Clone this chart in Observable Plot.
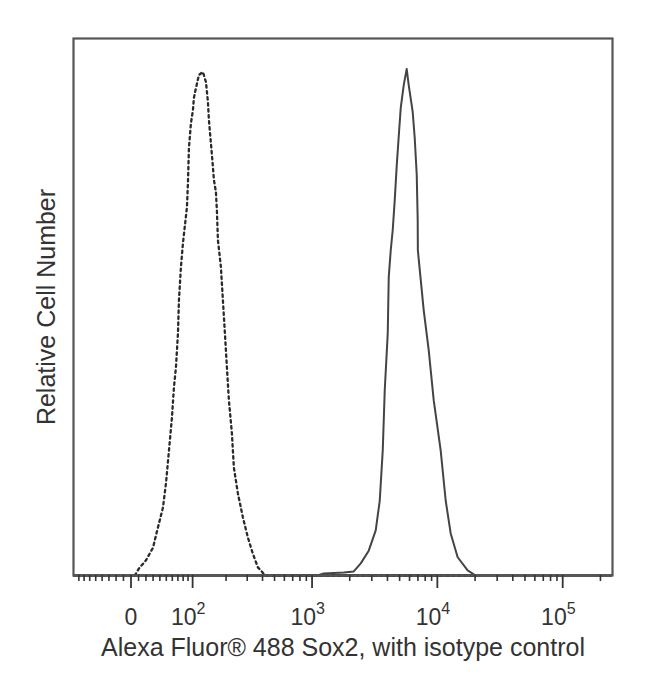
<!DOCTYPE html>
<html>
<head>
<meta charset="utf-8">
<script src="https://cdn.jsdelivr.net/npm/d3@7"></script>
<script src="https://cdn.jsdelivr.net/npm/@observablehq/plot@0.6"></script>
<style>
  html, body { margin: 0; padding: 0; background: #fff; }
</style>
</head>
<body>
<div id="chart"></div>
<script>
// Isotype control histogram (dashed): [fluorescence, relative count]
const isotypeValues = [5, 10.6, 20.1, 29.9, 37.1, 44.7, 49.5, 54.4, 59.4, 62.9, 66.4, 70.1, 71.9, 75.7, 79.6, 87.7, 89.8, 91.9, 96.3, 100.8, 103.0, 107.7, 115.0, 125.3, 133.5, 139.1, 142.0, 145.0, 147.9, 151.0, 154.1, 157.2, 163.7, 167.0, 170.4, 180.8, 188.1, 195.6, 203.4, 211.4, 224.0, 232.8, 251.4, 276.4, 303.9, 333.8, 366.6, 387.7, 420, 20000];
const isotypeCounts = [0, 1.4, 3.0, 5.5, 9.5, 13.4, 18.2, 24.7, 31.2, 37.2, 41.1, 47.8, 54.3, 60.9, 65.6, 72.7, 77.5, 84.4, 89.3, 91.9, 94.3, 96.2, 98.8, 99.4, 97.4, 93.5, 89.9, 87.5, 85.4, 83.0, 80.6, 78.1, 75.7, 72.0, 66.2, 60.9, 54.3, 47.8, 41.1, 34.6, 28.1, 21.3, 16.2, 11.5, 7.5, 4.3, 1.6, 1.0, 0, 0];

// Sox2 histogram (solid)
const sox2Values = [1100, 1241, 1800, 2154, 2449, 2836, 3224, 3472, 3668, 3806, 4021, 4095, 4249, 4406, 4572, 4745, 4918, 5105, 5393, 5695, 5911, 6358, 6598, 6847, 6970, 6990, 7783, 8532, 9353, 10630, 11654, 12780, 14524, 17448, 20203];
const sox2Counts = [0, 0.4, 0.6, 0.8, 2.4, 4.9, 8.9, 14.8, 24.7, 36.6, 47.8, 58.9, 64.2, 68.2, 74.1, 81.0, 86.6, 92.3, 96.8, 100, 96.8, 91.5, 86.4, 79.1, 70.2, 64.2, 52.4, 44.5, 34.6, 24.7, 14.8, 8.3, 3.6, 1.0, 0];

// Axis ticks
const majorTicks = [0, 100, 1000, 10000, 100000];
const labelBase = ["0", "10", "10", "10", "10"];
const labelExp = ["", "2", "3", "4", "5"];
const minorTicks = [-80, -70, -60, -50, -40, -30, -20, -10, 10, 20, 30, 40, 50, 60, 70, 80, 90,
  200, 300, 400, 500, 600, 700, 800, 900,
  2000, 3000, 4000, 5000, 6000, 7000, 8000, 9000,
  20000, 30000, 40000, 50000, 60000, 70000, 80000, 90000, 200000];
const xDomainRaw = [-91, 249600];
const yDomain = [0, 106];

const xTitle = "Alexa Fluor® 488 Sox2, with isotype control";
const yTitle = "Relative Cell Number";

// biexponential-like (arcsinh) display transform
const W = 72;
const T = v => Math.asinh(v / W);

const isotype = isotypeValues.map((v, i) => ({v, c: isotypeCounts[i]}));
const sox2 = sox2Values.map((v, i) => ({v, c: sox2Counts[i]}));
const powLabels = majorTicks.map((v, i) => ({v, base: labelBase[i], exp: labelExp[i]})).filter(d => d.exp !== "");
const zeroLabel = majorTicks.map((v, i) => ({v, base: labelBase[i], exp: labelExp[i]})).filter(d => d.exp === "");

const font = "'Liberation Sans', Arial, Helvetica, sans-serif";

const chart = Plot.plot({
  width: 650,
  height: 695,
  marginLeft: 73,
  marginRight: 38,
  marginTop: 38,
  marginBottom: 120,
  x: {type: "linear", domain: xDomainRaw.map(T)},
  y: {domain: yDomain, axis: null},
  style: {fontFamily: font, color: "#333", background: "#fff"},
  marks: [
    Plot.ruleY([0], {stroke: "#222", strokeWidth: 2.5}),
    Plot.line(isotype, {x: d => T(d.v), y: "c", stroke: "#2a2a2a", strokeWidth: 2.3, strokeDasharray: "2.5,3.5"}),
    Plot.line(sox2, {x: d => T(d.v), y: "c", stroke: "#444", strokeWidth: 2}),
    Plot.frame({stroke: "#555", strokeWidth: 2.2}),
    Plot.axisX(minorTicks.map(T), {tickSize: 6, tickFormat: () => "", label: null, stroke: "#333", strokeWidth: 1.6}),
    Plot.axisX(majorTicks.map(T), {tickSize: 13, tickFormat: () => "", label: null, stroke: "#333", strokeWidth: 1.8}),
    Plot.text(zeroLabel, {x: d => T(d.v), text: "base", frameAnchor: "bottom", dy: 49, lineAnchor: "bottom", textAnchor: "middle", fontSize: 23, fill: "#333"}),
    Plot.text(powLabels, {x: d => T(d.v), text: "base", frameAnchor: "bottom", dx: 4, dy: 49, lineAnchor: "bottom", textAnchor: "end", fontSize: 23, fill: "#333"}),
    Plot.text(powLabels, {x: d => T(d.v), text: "exp", frameAnchor: "bottom", dx: 4, dy: 38, lineAnchor: "bottom", textAnchor: "start", fontSize: 16, fill: "#333"}),
    Plot.text([xTitle], {text: d => d, frameAnchor: "bottom", dy: 80, lineAnchor: "bottom", textAnchor: "middle", fontSize: 25, fill: "#333"}),
    Plot.text([yTitle], {text: d => d, frameAnchor: "left", dx: -27, rotate: -90, lineAnchor: "middle", textAnchor: "middle", fontSize: 25, fill: "#333"})
  ]
});
document.getElementById("chart").appendChild(chart);
</script>
</body>
</html>
